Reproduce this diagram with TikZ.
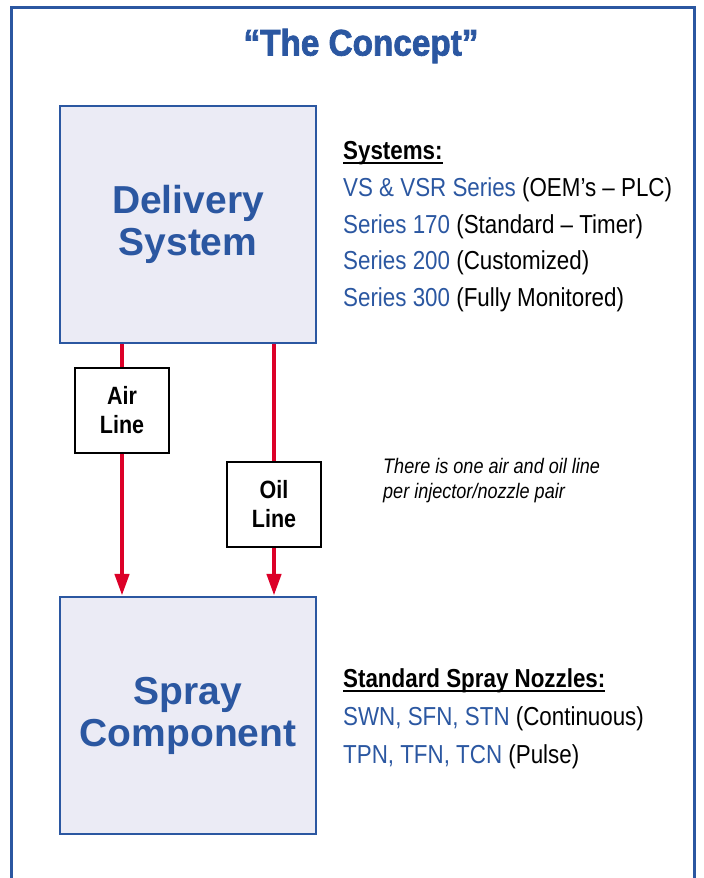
\documentclass[tikz,border=0pt]{standalone}
\usepackage{fontspec}
\setmainfont{Liberation Sans}
\newfontfamily\condfont{Liberation Sans}[FakeStretch=0.86]
\newfontfamily\titlefont{Liberation Sans Bold}[FakeBold=2,FakeStretch=0.9]
\usetikzlibrary{arrows.meta, positioning}

\definecolor{conceptblue}{RGB}{43,87,161}
\definecolor{feedred}{RGB}{220,0,40}
\definecolor{unitfill}{RGB}{235,235,245}

\newcommand{\headline}[1]{\setbox0\hbox{#1}\rlap{\raisebox{-5pt}{\rule{\wd0}{1.6pt}}}\box0}

\tikzset{
    unitbox/.style = {draw=conceptblue, line width=2.5pt, fill=unitfill,
        minimum width=256pt, minimum height=237pt, align=center,
        text=conceptblue, font=\fontsize{39}{42}\selectfont\bfseries},
    linebox/.style = {draw=black, line width=2pt, fill=white,
        minimum width=94pt, minimum height=85pt, align=center,
        font=\condfont\fontsize{25}{29}\selectfont\bfseries},
    feedline/.style = {draw=feedred, line width=4.5pt},
    listtext/.style = {anchor=base west, inner sep=0pt,
        font=\condfont\fontsize{26}{30}\selectfont}
}

\begin{document}
\begin{tikzpicture}[x=1pt, y=-1pt]
    \useasboundingbox (0,0) rectangle (704,878);

    % outer frame, open at the bottom
    \draw[conceptblue, line width=3pt] (11,878) -- (11,7) -- (694,7) -- (694,878);

    \node[text=conceptblue, font=\titlefont\fontsize{37}{40}\selectfont] (title) at (361,46) {“The Concept”};

    \node[unitbox] (delivery) at (188,224.5) {Delivery\\System};
    \node[unitbox] (spray) at (188,715.5) {Spray\\Component};

    \node[linebox] (air) at (122,410.5) {Air\\Line};
    \node[linebox] (oil) at (274,504.5) {Oil\\Line};

    % feed lines
    \draw[feedline] (delivery.south -| air) -- (air);
    \draw[feedline, -{Triangle[width=14pt,length=22pt]}] (air.south) -- (air |- spray.north);
    \draw[feedline] (delivery.south -| oil) -- (oil);
    \draw[feedline, -{Triangle[width=14pt,length=22pt]}] (oil.south) -- (oil |- spray.north);

    \node[listtext, font=\condfont\fontsize{26}{30}\selectfont\bfseries] (syshead) at (343,159) {\headline{Systems:}};
    \node[listtext] (sys1) at (343,196) {\textcolor{conceptblue}{VS \& VSR Series} (OEM’s – PLC)};
    \node[listtext] (sys2) at (343,233) {\textcolor{conceptblue}{Series 170} (Standard – Timer)};
    \node[listtext] (sys3) at (343,269.5) {\textcolor{conceptblue}{Series 200} (Customized)};
    \node[listtext] (sys4) at (343,306) {\textcolor{conceptblue}{Series 300} (Fully Monitored)};

    \node[listtext, font=\condfont\fontsize{21}{25}\selectfont\itshape, align=left] (note) at (383,498)
        {There is one air and oil line\\per injector/nozzle pair};

    \node[listtext, font=\condfont\fontsize{26}{30}\selectfont\bfseries] (nozhead) at (343,687) {\headline{Standard Spray Nozzles:}};
    \node[listtext] (noz1) at (343,725) {\textcolor{conceptblue}{SWN, SFN, STN} (Continuous)};
    \node[listtext] (noz2) at (343,763) {\textcolor{conceptblue}{TPN, TFN, TCN} (Pulse)};
\end{tikzpicture}
\end{document}
